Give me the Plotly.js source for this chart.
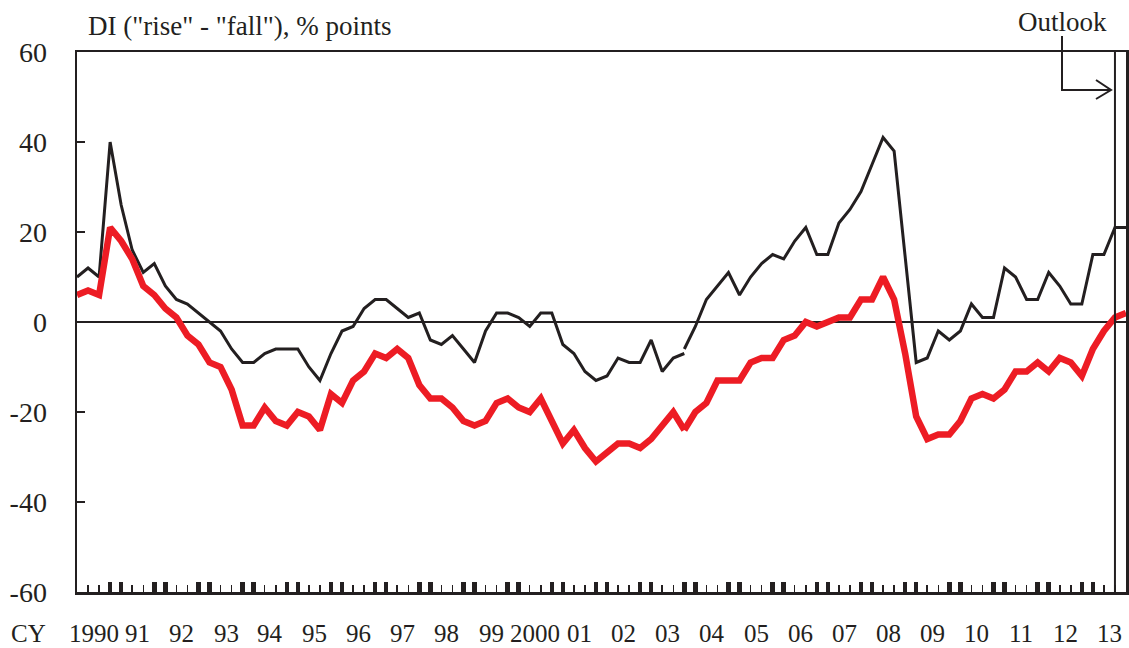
<!DOCTYPE html>
<html>
<head>
<meta charset="utf-8">
<script src="https://cdn.plot.ly/plotly-3.0.1.min.js"></script>
<style>
  html, body { margin: 0; padding: 0; background: #ffffff; }
  #chart { width: 1129px; height: 648px; }
</style>
</head>
<body>
<div id="chart"></div>
<script>
// Quarterly data, 1990 Q1 (index 0) to 2013 Q4 (index 95; 2013 Q4 = outlook)
const yearLabels = ["1990","91","92","93","94","95","96","97","98","99","2000",
                    "01","02","03","04","05","06","07","08","09","10","11","12","13"];

// Black series, old basis (1990 Q1 - 2003 Q4)
const blackOld = [10,12,10,40,26,16,11,13,8,5,4,2,0,-2,-6,-9,-9,-7,-6,-6,-6,-10,-13,-7,
                  -2,-1,3,5,5,3,1,2,-4,-5,-3,-6,-9,-2,2,2,1,-1,2,2,-5,-7,-11,-13,
                  -12,-8,-9,-9,-4,-11,-8,-7];
// Black series, new basis (2003 Q4 - 2013 Q4)
const blackNew = [-6,-1,5,8,11,6,10,13,15,14,18,21,15,15,22,25,29,35,41,38,15,
                  -9,-8,-2,-4,-2,4,1,1,12,10,5,5,11,8,4,4,15,15,21,21];

// Red series, old basis (1990 Q1 - 2003 Q4)
const redOld = [6,7,6,21,18,14,8,6,3,1,-3,-5,-9,-10,-15,-23,-23,-19,-22,-23,-20,-21,-24,-16,
                -18,-13,-11,-7,-8,-6,-8,-14,-17,-17,-19,-22,-23,-22,-18,-17,-19,-20,-17,-22,-27,-24,-28,-31,
                -29,-27,-27,-28,-26,-23,-20,-24];
// Red series, new basis (2003 Q4 - 2013 Q4)
const redNew = [-24,-20,-18,-13,-13,-13,-9,-8,-8,-4,-3,0,-1,0,1,1,5,5,10,5,-7,
                -21,-26,-25,-25,-22,-17,-16,-17,-15,-11,-11,-9,-11,-8,-9,-12,-6,-2,1,2];

const breakIndex = 55;     // 2003 Q4: series break
const outlookIndex = 94;   // 2013 Q3: last actual
const yTicks = [-60,-40,-20,0,20,40,60];

const INK = '#231F20';
const RED = '#ED1C24';
const FONT = '"Liberation Serif", "Times New Roman", Times, serif';

const W = 1129, H = 648;
const M = {l: 77, r: 3, t: 52, b: 56};
const PW = W - M.l - M.r, PH = H - M.t - M.b;
const px = x => (x - M.l) / PW;
const py = y => (H - M.b - y) / PH;

const idxOld = blackOld.map((_, i) => i);
const idxNew = blackNew.map((_, i) => breakIndex + i);
const nQ = breakIndex + blackNew.length;

const traces = [
  {x: idxOld, y: blackOld, mode: 'lines', line: {color: INK, width: 3}, hoverinfo: 'skip'},
  {x: idxNew, y: blackNew, mode: 'lines', line: {color: INK, width: 3}, hoverinfo: 'skip'},
  {x: idxOld, y: redOld, mode: 'lines', line: {color: RED, width: 6.5}, hoverinfo: 'skip'},
  {x: idxNew, y: redNew, mode: 'lines', line: {color: RED, width: 6.5}, hoverinfo: 'skip'}
];

const allQ = Array.from({length: nQ}, (_, i) => i);
const thickTicks = allQ.filter(i => i % 4 === 0 || i % 4 === 3);
const thinTicks = allQ.filter(i => i % 4 === 1 || i % 4 === 2);

const annotations = yearLabels.map((t, k) => ({
  text: t, xref: 'x', x: 4 * k + 1.5, yref: 'paper', y: 0,
  yanchor: 'middle', xanchor: 'center', yshift: -41, showarrow: false,
  font: {family: FONT, size: 25, color: INK}
}));
annotations.push(
  {text: 'CY', xref: 'paper', x: px(28), yref: 'paper', y: py(633), xanchor: 'center', yanchor: 'middle',
   showarrow: false, font: {family: FONT, size: 25, color: INK}},
  {text: 'DI ("rise" - "fall"), % points', xref: 'paper', x: px(86), yref: 'paper', y: py(26),
   xanchor: 'left', yanchor: 'middle', showarrow: false, font: {family: FONT, size: 27, color: INK}},
  {text: 'Outlook', xref: 'paper', x: px(1062), yref: 'paper', y: py(22), xanchor: 'center', yanchor: 'middle',
   showarrow: false, font: {family: FONT, size: 27, color: INK}}
);

const shapes = [
  {type: 'line', xref: 'x', x0: outlookIndex, x1: outlookIndex, yref: 'paper', y0: 0, y1: 1,
   line: {color: INK, width: 2}, layer: 'above'},
  {type: 'path', xref: 'paper', yref: 'paper', layer: 'above',
   path: `M ${px(1062)} ${py(36)} L ${px(1062)} ${py(90)} L ${px(1111)} ${py(90)}`,
   line: {color: INK, width: 2}},
  {type: 'path', xref: 'paper', yref: 'paper', layer: 'above',
   path: `M ${px(1096)} ${py(80)} L ${px(1111)} ${py(90)} L ${px(1096)} ${py(99)}`,
   line: {color: INK, width: 2}}
];

const layout = {
  width: W, height: H,
  margin: {l: M.l, r: M.r, t: M.t, b: M.b, pad: 0},
  paper_bgcolor: '#ffffff', plot_bgcolor: '#ffffff',
  showlegend: false,
  font: {family: FONT, color: INK},
  xaxis: {
    range: [0, nQ - 1], showgrid: false, zeroline: false,
    showline: true, linecolor: INK, linewidth: 2.5, mirror: true,
    tickmode: 'array', tickvals: thickTicks, ticks: 'inside', ticklen: 10, tickwidth: 4.5, tickcolor: INK,
    showticklabels: false,
    minor: {tickmode: 'array', tickvals: thinTicks, ticks: 'inside', ticklen: 7, tickwidth: 1.5,
            tickcolor: INK, showgrid: false}
  },
  yaxis: {
    range: [-60, 60], showgrid: false,
    zeroline: true, zerolinecolor: INK, zerolinewidth: 1.5,
    showline: true, linecolor: INK, linewidth: 2.5, mirror: true,
    tickmode: 'array', tickvals: yTicks, ticktext: yTicks.map(String),
    ticks: 'inside', ticklen: 8, tickwidth: 1.5, tickcolor: INK,
    ticklabelstandoff: 22,
    tickfont: {family: FONT, size: 28, color: INK}
  },
  annotations: annotations,
  shapes: shapes
};

Plotly.newPlot('chart', traces, layout, {displayModeBar: false, staticPlot: true});
</script>
</body>
</html>
